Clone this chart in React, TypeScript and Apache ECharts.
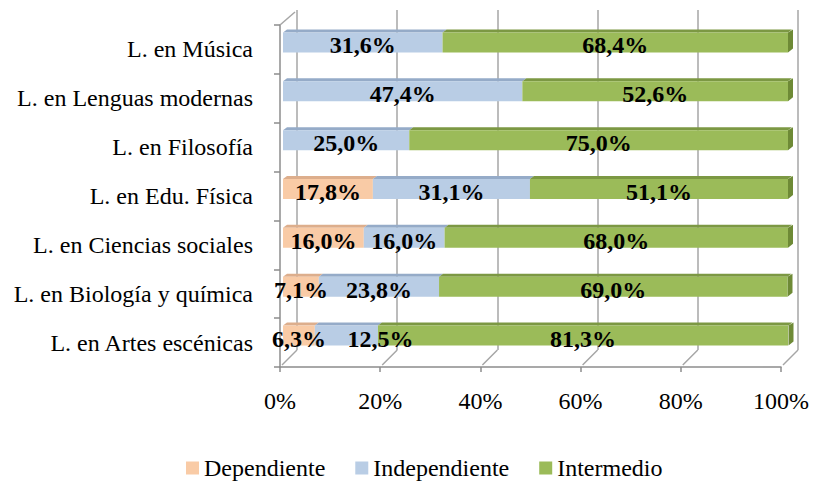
import React, { useEffect, useRef } from "react";
import * as echarts from "echarts";

const categories = [
  "L. en Artes escénicas",
  "L. en Biología y química",
  "L. en Ciencias sociales",
  "L. en Edu. Física",
  "L. en Filosofía",
  "L. en Lenguas modernas",
  "L. en Música",
];
const seriesNames = ["Dependiente", "Independiente", "Intermedio"];
const dependiente = [6.3, 7.1, 16.0, 17.8, 0, 0, 0];
const independiente = [12.5, 23.8, 16.0, 31.1, 25.0, 47.4, 31.6];
const intermedio = [81.3, 69.0, 68.0, 51.1, 75.0, 52.6, 68.4];
const xTicks = [0, 20, 40, 60, 80, 100];

const FONT = "Liberation Serif";
const frontColors = ["#F9CBA6", "#B9CDE5", "#9BBB59"];
const topColors = ["#DDAE8C", "#95ABC8", "#7C9843"];
const sideColor = "#6E8A36";
const gridColor = "#A6A6A6";
const axisColor = "#8C8C8C";

const fmt = (v: number) => (v ? v.toFixed(1).replace(".", ",") + "%" : "");

export default function App() {
  const ref = useRef<HTMLDivElement>(null);
  useEffect(() => {
    document.body.style.margin = "0";
    if (!ref.current) return;
    const chart = echarts.init(ref.current, undefined, { renderer: "svg" });
    const all = [dependiente, independiente, intermedio];

    const faces: number[][] = [];
    categories.forEach((_, ci) => {
      let acc = 0;
      all.forEach((arr, si) => {
        const v = arr[ci];
        if (v > 0) {
          faces.push([acc, acc + v, ci, si, si === all.length - 1 ? 1 : 0]);
        }
        acc += v;
      });
    });

    const barHalf = 10;
    const dx = 4;
    const dy = 3;

    const labelBase = {
      show: true,
      position: "inside",
      offset: [0, 3],
      formatter: (p: any) => fmt(p.value),
      fontFamily: FONT,
      fontSize: 24,
      fontWeight: "bold",
      color: "#000",
    };

    const option: any = {
      animation: false,
      legend: {
        data: seriesNames,
        top: 451,
        left: 181,
        icon: "rect",
        itemWidth: 13,
        itemHeight: 13,
        itemGap: 30,
        padding: [4, 5, 2, 5],
        textStyle: { fontFamily: FONT, fontSize: 24, lineHeight: 26, color: "#000" },
      },
      grid: [
        { left: 283, width: 505, top: 18, height: 342 },
        { left: 280, width: 501, top: 25, height: 342 },
        { left: 297, width: 501, top: 10, height: 340 },
      ],
      xAxis: [
        { gridIndex: 0, type: "value", min: 0, max: 100, show: false },
        {
          gridIndex: 1,
          type: "value",
          min: 0,
          max: 100,
          interval: 20,
          axisLine: { show: true, lineStyle: { color: axisColor, width: 1.5 } },
          axisTick: { show: true, length: 5, lineStyle: { color: axisColor, width: 1.5 } },
          splitLine: { show: false },
          axisLabel: {
            formatter: "{value}%",
            fontFamily: FONT,
            fontSize: 24,
            color: "#000",
            margin: 22,
          },
        },
        {
          gridIndex: 2,
          type: "value",
          min: 0,
          max: 100,
          interval: 20,
          axisLine: { show: false },
          axisTick: { show: false },
          axisLabel: { show: false },
          splitLine: { show: true, lineStyle: { color: gridColor, width: 1.5 } },
        },
      ],
      yAxis: [
        { gridIndex: 0, type: "category", data: categories, show: false },
        {
          gridIndex: 1,
          type: "category",
          data: categories,
          axisLine: { show: true, lineStyle: { color: axisColor, width: 1.5 } },
          axisTick: { show: true, length: 6, lineStyle: { color: axisColor, width: 1.5 } },
          axisLabel: {
            fontFamily: FONT,
            fontSize: 24,
            color: "#000",
            margin: 27,
          },
        },
        { gridIndex: 2, type: "category", data: categories, show: false },
      ],
      series: [
        {
          type: "custom",
          xAxisIndex: 1,
          yAxisIndex: 1,
          z: 1,
          silent: true,
          data: xTicks.map((t) => [t]),
          encode: { x: 0 },
          renderItem: (params: any, api: any) => {
            const cs = params.coordSys;
            const x = api.coord([api.value(0), 0])[0];
            const yb = cs.y + cs.height;
            const children: any[] = [
              {
                type: "line",
                shape: { x1: x + 2, y1: yb - 2, x2: x + 17, y2: yb - 17 },
                style: { stroke: gridColor, lineWidth: 1.5 },
              },
            ];
            if (api.value(0) === 0) {
              children.push({
                type: "line",
                shape: { x1: cs.x, y1: cs.y, x2: cs.x + 15, y2: cs.y - 13 },
                style: { stroke: gridColor, lineWidth: 1.5 },
              });
            }
            return { type: "group", children };
          },
        },
        {
          type: "custom",
          xAxisIndex: 0,
          yAxisIndex: 0,
          z: 3,
          silent: true,
          data: faces,
          encode: { x: [0, 1], y: 2 },
          renderItem: (params: any, api: any) => {
            const s = api.value(0);
            const e = api.value(1);
            const ci = api.value(2);
            const si = api.value(3);
            const last = api.value(4);
            const p0 = api.coord([s, ci]);
            const p1 = api.coord([e, ci]);
            const yT = p0[1] - barHalf;
            const children: any[] = [
              {
                type: "polygon",
                shape: {
                  points: [
                    [p0[0], yT],
                    [p1[0], yT],
                    [p1[0] + dx, yT - dy],
                    [p0[0] + dx, yT - dy],
                  ],
                },
                style: { fill: topColors[si] },
              },
            ];
            if (last) {
              children.push({
                type: "polygon",
                shape: {
                  points: [
                    [p1[0], yT],
                    [p1[0] + dx + 1, yT - dy],
                    [p1[0] + dx + 1, yT + 2 * barHalf - dy - 1],
                    [p1[0], yT + 2 * barHalf],
                  ],
                },
                style: { fill: sideColor },
              });
            }
            return { type: "group", children };
          },
        },
        ...all.map((arr, si) => ({
          name: seriesNames[si],
          type: "bar",
          stack: "total",
          xAxisIndex: 0,
          yAxisIndex: 0,
          z: 4,
          barWidth: 20,
          data: arr.map((v, ci) =>
            si === 1 && ci === 0
              ? { value: v, label: { offset: [34, 3] } }
              : v
          ),
          itemStyle: { color: frontColors[si] },
          label: labelBase,
        })),
      ],
    };
    chart.setOption(option);
    return () => chart.dispose();
  }, []);
  return <div ref={ref} style={{ width: 813, height: 484 }} />;
}
